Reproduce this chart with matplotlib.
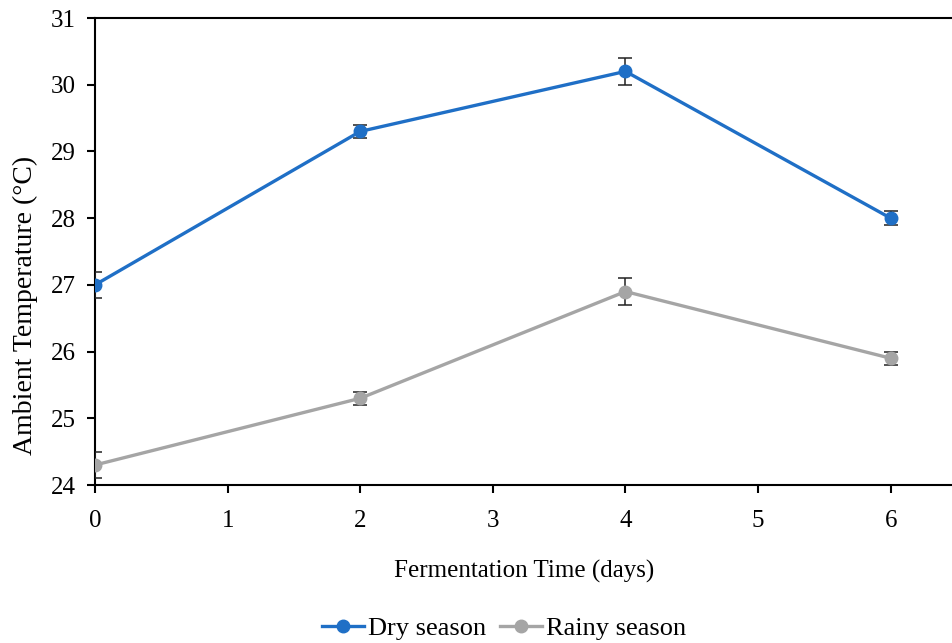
import matplotlib.pyplot as plt
from matplotlib.lines import Line2D

plt.rcParams['font.family'] = ['Liberation Serif', 'DejaVu Serif']

days = [0, 2, 4, 6]
dry = [27.0, 29.3, 30.2, 28.0]
dry_err = [0.2, 0.1, 0.2, 0.1]
rainy = [24.3, 25.3, 26.9, 25.9]
rainy_err = [0.2, 0.1, 0.2, 0.1]

blue = '#1f6fc6'
grey = '#a5a5a5'

fig = plt.figure(figsize=(9.53, 6.43), dpi=100)
ax = fig.add_axes([0.0997, 0.2457, 0.9003, 0.7263])

ax.errorbar(days, dry, yerr=dry_err, color=blue, lw=2.4, marker='o', ms=9,
            ecolor='#222222', elinewidth=1.1, capsize=5, capthick=1.1, zorder=3)
ax.errorbar(days, rainy, yerr=rainy_err, color=grey, lw=2.4, marker='o', ms=9,
            ecolor='#222222', elinewidth=1.1, capsize=5, capthick=1.1, zorder=3)

ax.set_xlim(0, 6.47)
ax.set_ylim(24, 31)
ax.set_xticks([0, 1, 2, 3, 4, 5, 6])
ax.set_yticks([24, 25, 26, 27, 28, 29, 30, 31])
ax.spines['right'].set_visible(False)
for s in ['left', 'bottom', 'top']:
    ax.spines[s].set_linewidth(1.5)
ax.tick_params(direction='out', length=6, width=1.5, labelsize=18)
ax.tick_params(axis='x', pad=12)
ax.tick_params(axis='y', pad=8)

ax.set_xlabel('Fermentation Time (days)', fontsize=18, labelpad=20)
ax.set_ylabel('Ambient Temperature (°C)', fontsize=20)
ax.yaxis.set_label_coords(-0.066, 0.385)

handles = [Line2D([], [], color=blue, lw=2.4, marker='o', ms=9),
           Line2D([], [], color=grey, lw=2.4, marker='o', ms=9)]
fig.legend(handles, ['Dry season', 'Rainy season'], loc='center',
           bbox_to_anchor=(0.529, 0.023), ncol=2, frameon=False, fontsize=19,
           handlelength=1.6, columnspacing=0.5, handletextpad=0.15,
           borderaxespad=0, borderpad=0)

plt.savefig('out.png', dpi=100)
